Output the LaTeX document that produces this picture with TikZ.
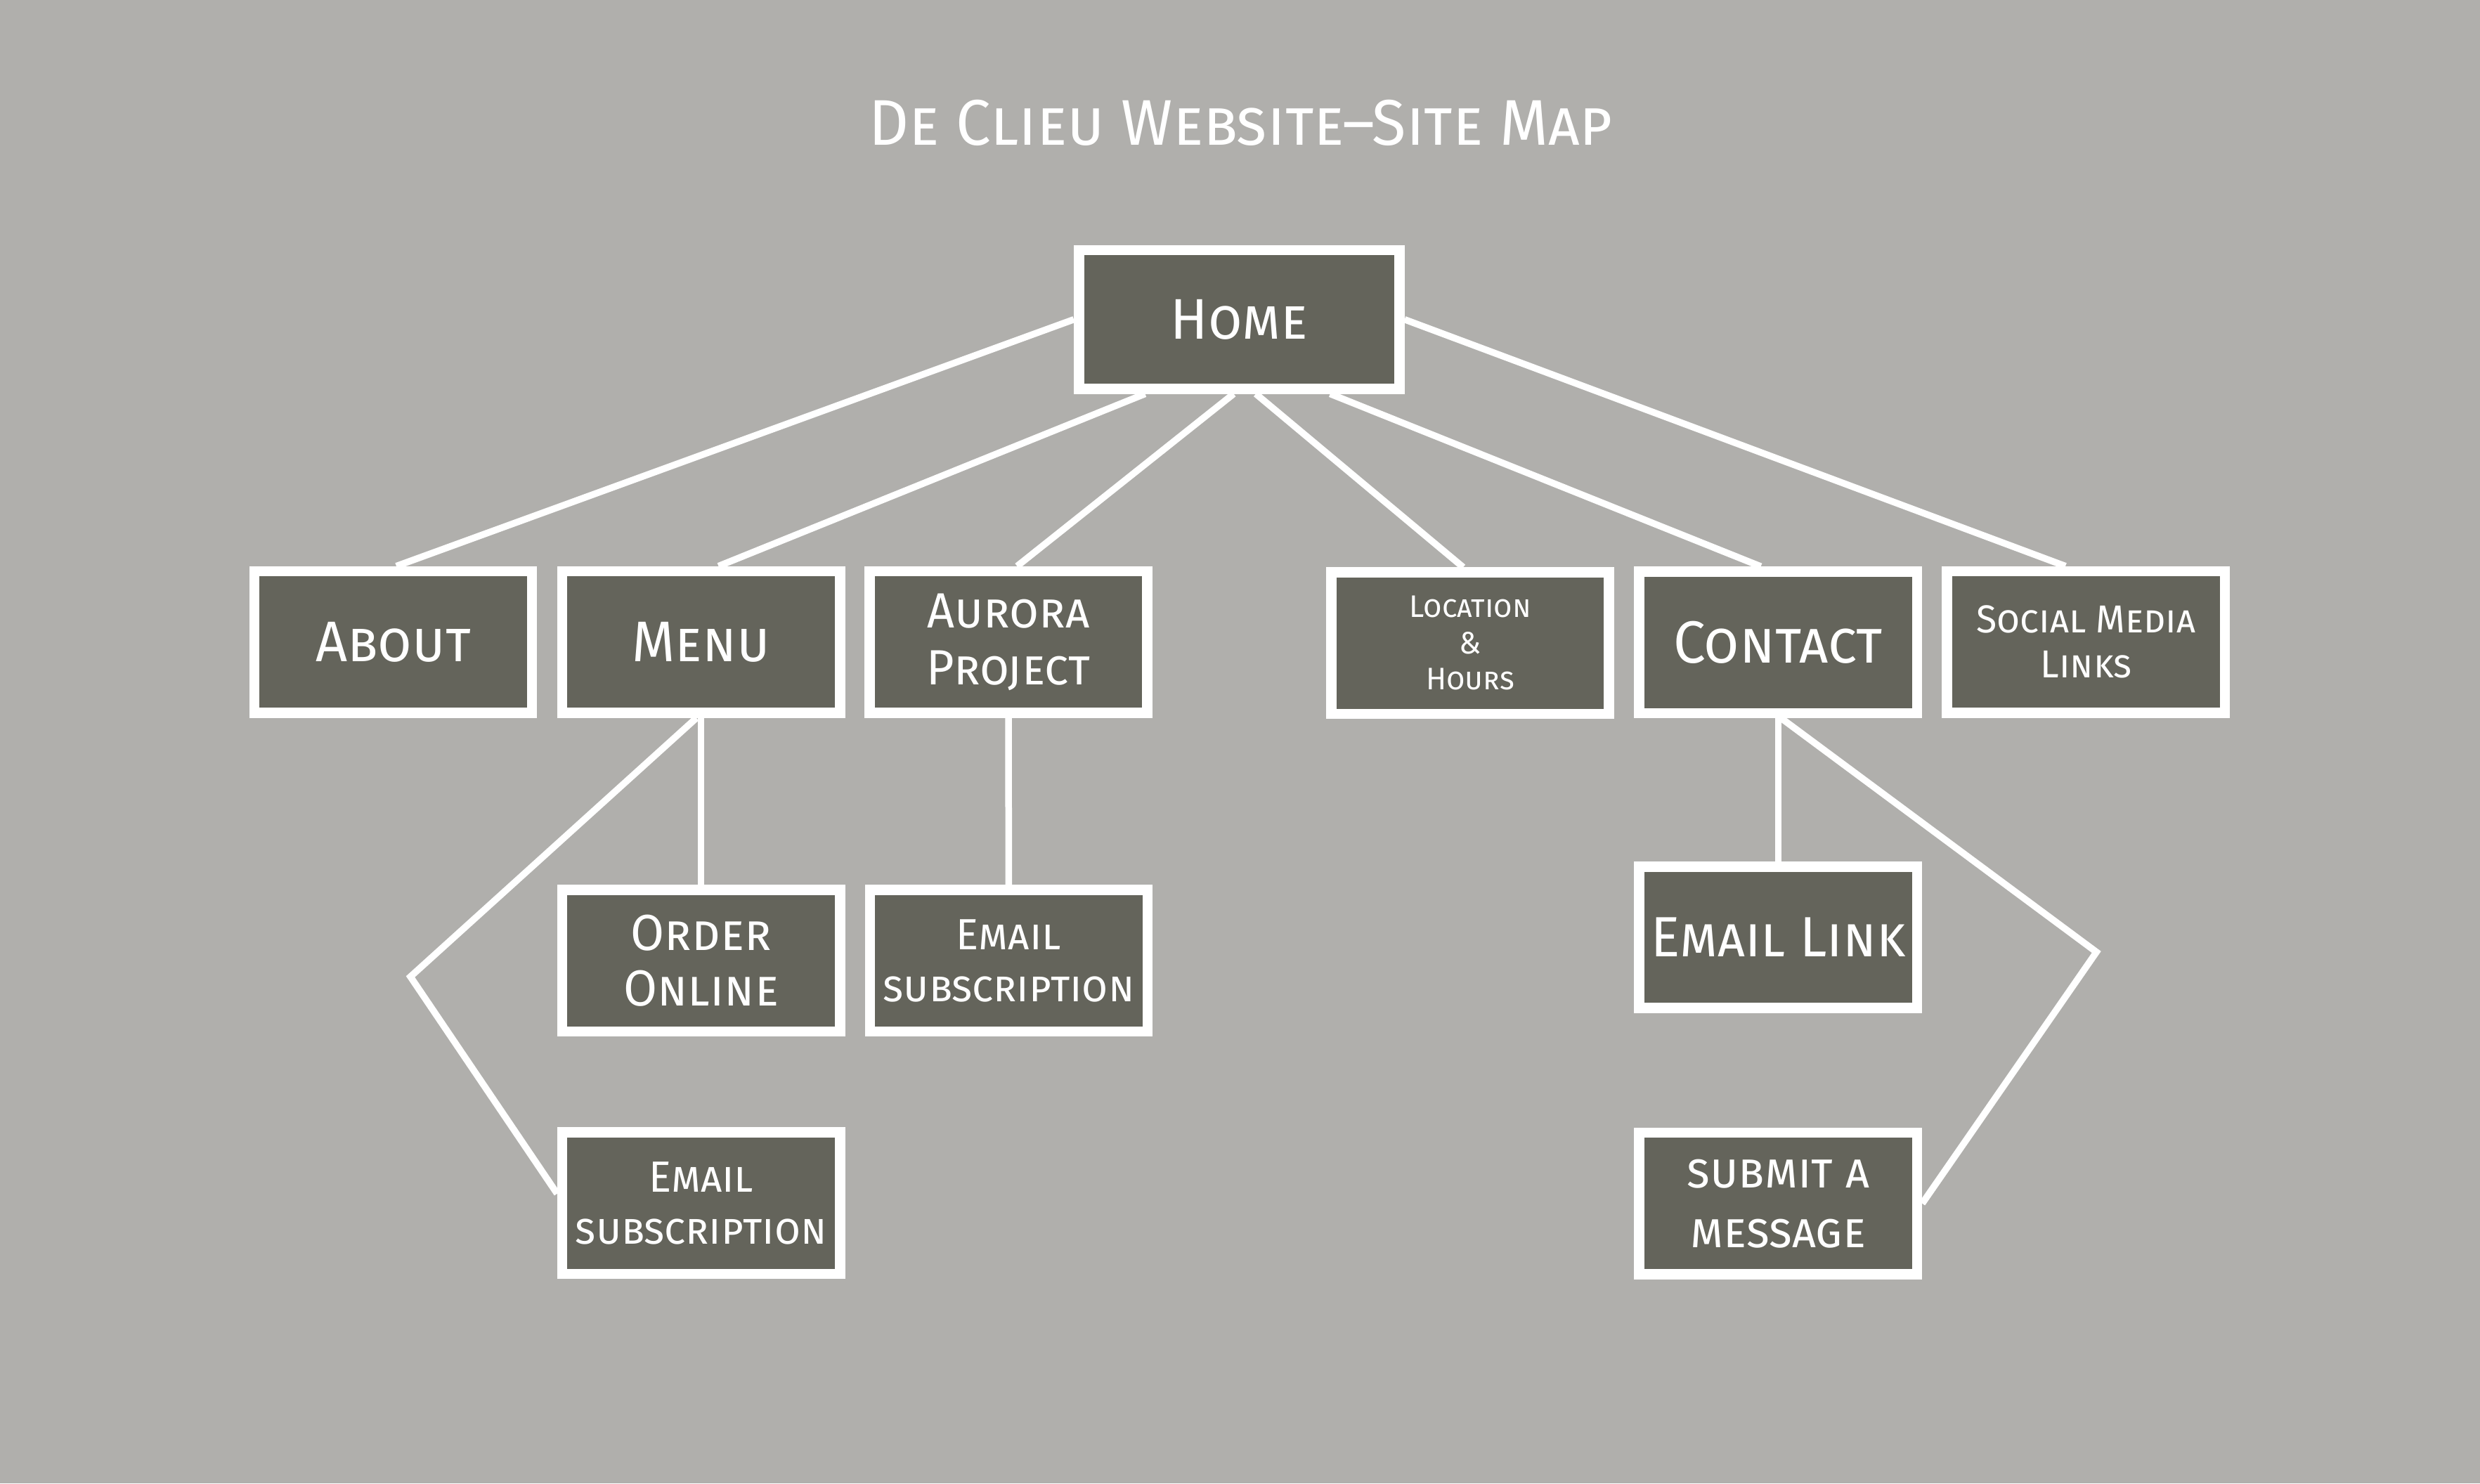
\documentclass[tikz,border=0pt]{standalone}
\usepackage{fontspec}
\setmainfont{Fira Sans}[FakeStretch=0.965]
\newfontfamily\widefont{Fira Sans}[FakeStretch=0.955]
\usepackage{tikz}
\definecolor{sitebg}{RGB}{176, 175, 172}
\definecolor{boxgray}{RGB}{100, 100, 91}
\usetikzlibrary{calc, backgrounds}

\begin{document}
\begin{tikzpicture}[x=0.01cm, y=-0.01cm,
        pagebox/.style={draw=white, line width=1.85pt, fill=boxgray, text=white,
              align=center, minimum width=1.755cm, minimum height=0.895cm, inner sep=0pt},
        link/.style={draw=white, line width=1.2pt}]
        \useasboundingbox (0,0) rectangle (1568,938);

        % title
        \node[text=white, anchor=base, font=\fontsize{11.6}{14}\selectfont] (title) at (784.5,91.8)
            {\textsc{De Clieu Website--Site Map}};

        % top level
        \node[pagebox, minimum width=2.025cm, minimum height=0.875cm,
              font=\fontsize{10.3}{12}\selectfont] (home) at (783.5,202) {\textsc{Home}};
        \node[pagebox, font=\fontsize{10.3}{12}\selectfont] (about) at (248.6,406) {\textsc{About}};
        \node[pagebox, font=\fontsize{10.3}{12}\selectfont] (menu) at (443.3,406) {\textsc{Menu}};
        \node[pagebox, font=\fontsize{8.9}{10.3}\selectfont] (aurora) at (637.6,406) {\textsc{Aurora}\\\textsc{Project}};
        \node[pagebox, font=\fontsize{5.6}{6.5}\selectfont] (location) at (929.6,406.7) {\textsc{Location}\\\textsc{\&}\\\textsc{Hours}};
        \node[pagebox, font=\fontsize{10.7}{12}\selectfont] (contact) at (1124.3,406.2) {\textsc{Contact}};
        \node[pagebox, font=\fontsize{7}{8.1}\selectfont] (social) at (1318.9,406) {\textsc{Social Media}\\\textsc{Links}};

        % second level
        \node[pagebox, font=\fontsize{9.1}{10}\selectfont] (order) at (443.3,607.5) {\textsc{Order}\\\textsc{Online}};
        \node[pagebox, font=\fontsize{7.85}{9.3}\selectfont] (menumail) at (443.3,760.8) {\textsc{Email}\\\textsc{subscription}};
        \node[pagebox, font=\fontsize{7.85}{9.3}\selectfont] (auroramail) at (637.8,607.5) {\textsc{Email}\\\textsc{subscription}};
        \node[pagebox, font=\widefont\fontsize{10.2}{12}\selectfont] (emaillink) at (1124.3,592.7) {\textsc{Email Link}};
        \node[pagebox, font=\widefont\fontsize{8.9}{10.75}\selectfont] (submit) at (1124.3,761) {\textsc{submit a}\\\textsc{message}};

        \coordinate (menukink) at (259.5,617.6);
        \coordinate (contactkink) at (1325.5,602);

        \begin{pgfonlayer}{background}
            \fill[sitebg] (0,0) rectangle (1568,938);
            \draw[link] (home.west) -- ($(about.north)+(2,0)$);
            \draw[link] ($(home.south)+(-59.5,0)$) -- ($(menu.north)+(11,0)$);
            \draw[link] ($(home.south)+(-3.5,0)$) -- ($(aurora.north)+(5.5,0)$);
            \draw[link] ($(home.south)+(10.5,0)$) -- ($(location.north)+(-4.5,0)$);
            \draw[link] ($(home.south)+(57.5,0)$) -- ($(contact.north)+(-11,0)$);
            \draw[link] (home.east) -- ($(social.north)+(-13,0)$);
            \draw[link] (menu.south) -- (order.north);
            \draw[link] ($(menu.south)+(-3,0)$) -- (menukink) -- ($(menumail.west)+(0,-6)$);
            \draw[link] (aurora.south) -- (auroramail.north);
            \draw[link] (contact.south) -- (emaillink.north);
            \draw[link] ($(contact.south)+(2,0)$) -- (contactkink) -- (submit.east);
        \end{pgfonlayer}
    \end{tikzpicture}
\end{document}
